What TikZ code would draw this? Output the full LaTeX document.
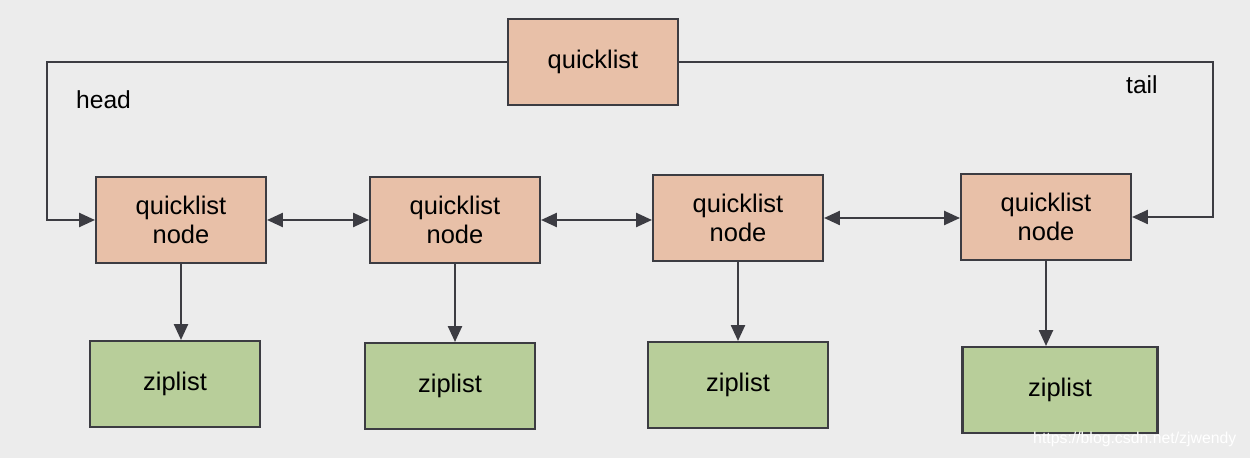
\documentclass[tikz,border=0pt]{standalone}
\usepackage{fontspec}
\setmainfont{Liberation Sans}
\definecolor{nodeorange}{RGB}{232, 192, 168}
\definecolor{zipgreen}{RGB}{184, 206, 154}
\definecolor{linegray}{RGB}{60, 60, 66}
\definecolor{paper}{RGB}{236, 236, 236}
\usetikzlibrary{arrows.meta, positioning, calc}

\begin{document}
\begin{tikzpicture}[
  box/.style={draw=linegray, line width=1.2pt, font=\fontsize{14.5}{16.5}\selectfont,
              minimum width=3.4cm, minimum height=1.72cm, align=center, inner sep=2pt},
  qbox/.style={box, fill=nodeorange},
  zbox/.style={box, fill=zipgreen},
  link/.style={draw=linegray, line width=1.1pt, -{Triangle[length=9pt, width=8pt]}},
  dlink/.style={link, {Triangle[length=9pt, width=8pt]}-{Triangle[length=9pt, width=8pt]}},
]
% Background
\fill[paper] (0, 0) rectangle (25, -9.16);
\useasboundingbox (0, 0) rectangle (25, -9.16);

% Header
\node[qbox] (qlist) at (11.86, -1.24) {quicklist};

% Quicklist nodes
\node[qbox] (qn1) at (3.62, -4.4) {quicklist\\node};
\node[qbox] (qn2) at (9.10, -4.4) {quicklist\\node};
\node[qbox] (qn3) at (14.76, -4.36) {quicklist\\node};
\node[qbox] (qn4) at (20.92, -4.34) {quicklist\\node};

% Ziplists
\node[zbox] (zl1) at (3.50, -7.68) {ziplist};
\node[zbox] (zl2) at (9.00, -7.72) {ziplist};
\node[zbox, minimum width=3.6cm] (zl3) at (14.76, -7.70) {ziplist};
\node[zbox, minimum width=3.9cm] (zl4) at (21.20, -7.80) {ziplist};

% head / tail pointers
\coordinate (hd) at (0.94, -1.24);
\coordinate (tl) at (24.26, -1.24);
\draw[link] (qlist.west) -- (hd) -- (hd |- qn1.west) -- (qn1.west);
\draw[link] (qlist.east) -- (tl) -- (tl |- qn4.east) -- (qn4.east);
\node[font=\fontsize{14}{16}\selectfont, anchor=west] (headlbl) at (1.4, -2.0) {head};
\node[font=\fontsize{14}{16}\selectfont, anchor=west] (taillbl) at (22.4, -1.7) {tail};

% Links between nodes
\draw[dlink] (qn1.east) -- (qn2.west);
\draw[dlink] (qn2.east) -- (qn3.west |- qn2.east);
\draw[dlink] (qn3.east) -- (qn4.west |- qn3.east);

% Node to ziplist
\foreach \i in {1,...,4}
  \draw[link] (qn\i.south) -- (qn\i.south |- zl\i.north);

% Watermark
\node[font=\fontsize{9}{10}\selectfont, text=white, anchor=east] (mark) at (24.85, -8.78) {https://blog.csdn.net/zjwendy};
\end{tikzpicture}
\end{document}
